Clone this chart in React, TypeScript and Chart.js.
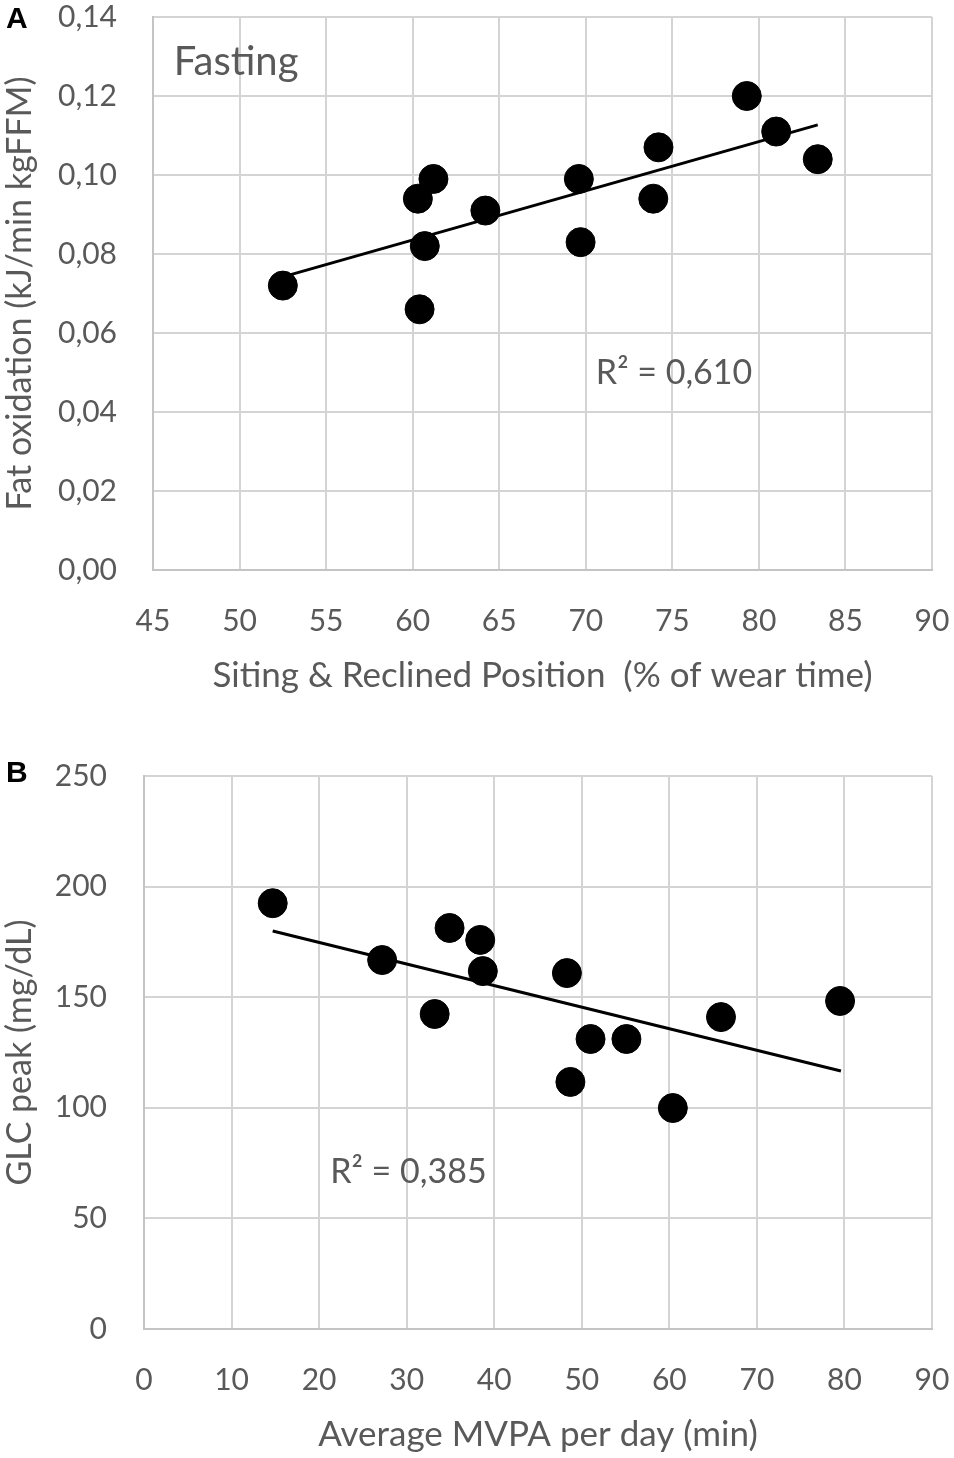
import React, { useEffect, useRef } from "react";
import { Chart, registerables } from "chart.js";

Chart.register(...registerables);

// ---- Panel A data ----
const sittingPct = [52.5, 60.3, 61.2, 60.7, 60.4, 64.2, 69.6, 69.7, 74.2, 73.9, 79.3, 81.0, 83.4];
const fatOxidation = [0.072, 0.094, 0.099, 0.082, 0.066, 0.091, 0.099, 0.083, 0.107, 0.094, 0.120, 0.111, 0.104];
const trendAX = [52.5, 83.4];
const trendAY = [0.0742, 0.1127];
const xTicksA = [45, 90, 5];
const yTicksA = [0, 0.14, 0.02];

// ---- Panel B data ----
const mvpaMin = [14.7, 27.2, 33.2, 34.9, 38.4, 38.7, 48.3, 48.7, 51.0, 55.1, 60.4, 65.9, 79.5];
const glcPeak = [192.5, 166.8, 142.4, 181.3, 175.9, 161.8, 160.9, 111.7, 131.1, 131.1, 99.9, 141.0, 148.3];
const trendBX = [14.7, 79.6];
const trendBY = [179.9, 116.6];
const xTicksB = [0, 90, 10];
const yTicksB = [0, 250, 50];

const FONT = "Lato, 'Open Sans', sans-serif";
const TEXT = "#595959";
const GRID = "#d4d4d4";

type Note = { text: string; x: number; y: number; size: number };

const notesA: Note[] = [
  { text: "Fasting", x: 49.8, y: 0.1286, size: 40 },
  { text: "R² = 0,610", x: 75.1, y: 0.0499, size: 34 },
];
const notesB: Note[] = [{ text: "R² = 0,385", x: 30.2, y: 71, size: 34 }];

type Cfg = {
  xs: number[];
  ys: number[];
  tx: number[];
  ty: number[];
  xr: number[];
  yr: number[];
  xTitle: string;
  yTitle: string;
  notes: Note[];
  fmtY: (v: number) => string;
  height: number;
  padTop: number;
  yWidth: number;
  xHeight: number;
  yTickPad: number;
  xTitlePadBottom: number;
};

function ScatterPanel(props: { cfg: Cfg }) {
  const ref = useRef<HTMLCanvasElement | null>(null);
  useEffect(() => {
    const c = props.cfg;
    if (!ref.current) return;
    const notePlugin = {
      id: "notes",
      afterDatasetsDraw(chart: any) {
        const ctx = chart.ctx;
        const xs = chart.scales.x;
        const ys = chart.scales.y;
        ctx.save();
        ctx.fillStyle = TEXT;
        ctx.textAlign = "center";
        ctx.textBaseline = "middle";
        c.notes.forEach((n) => {
          ctx.font = `${n.size}px ${FONT}`;
          ctx.fillText(n.text, xs.getPixelForValue(n.x), ys.getPixelForValue(n.y));
        });
        ctx.restore();
      },
    };
    const chart = new Chart(ref.current, {
      type: "scatter",
      data: {
        datasets: [
          {
            data: c.xs.map((x, i) => ({ x, y: c.ys[i] })),
            backgroundColor: "#000",
            borderColor: "#000",
            pointRadius: 14.5,
            pointHoverRadius: 14.5,
          },
          {
            type: "line",
            data: c.tx.map((x, i) => ({ x, y: c.ty[i] })),
            borderColor: "#000",
            borderWidth: 3,
            pointRadius: 0,
            showLine: true,
            fill: false,
          } as any,
        ],
      },
      options: {
        animation: false,
        responsive: false,
        events: [],
        layout: { padding: { top: c.padTop, right: 22, left: 0, bottom: 0 } },
        plugins: { legend: { display: false }, tooltip: { enabled: false } },
        scales: {
          x: {
            type: "linear",
            min: c.xr[0],
            max: c.xr[1],
            afterFit: (s: any) => {
              s.height = c.xHeight;
              s.paddingLeft = 0;
              s.paddingRight = 0;
            },
            ticks: {
              stepSize: c.xr[2],
              padding: 33,
              color: TEXT,
              font: { family: FONT, size: 30 },
              maxRotation: 0,
            },
            grid: { color: GRID, lineWidth: 2, drawTicks: false },
            border: { color: "#c4c4c4", width: 2 },
            title: {
              display: true,
              text: c.xTitle,
              color: TEXT,
              font: { family: FONT, size: 35 },
              padding: { top: 0, bottom: c.xTitlePadBottom },
            },
          },
          y: {
            type: "linear",
            min: c.yr[0],
            max: c.yr[1],
            afterFit: (s: any) => {
              s.width = c.yWidth;
              s.paddingTop = 0;
              s.paddingBottom = 0;
            },
            ticks: {
              stepSize: c.yr[2],
              padding: c.yTickPad,
              color: TEXT,
              font: { family: FONT, size: 30 },
              callback: (v: any) => c.fmtY(Number(v)),
            },
            grid: { color: GRID, lineWidth: 2, drawTicks: false },
            border: { color: "#c4c4c4", width: 2 },
            title: {
              display: true,
              text: c.yTitle,
              color: TEXT,
              font: { family: FONT, size: 34 },
              padding: { top: 0, bottom: 0 },
            },
          },
        },
      },
      plugins: [notePlugin],
    });
    return () => chart.destroy();
  }, [props.cfg]);
  return <canvas ref={ref} width={954} height={props.cfg.height} style={{ display: "block" }} />;
}

const cfgA: Cfg = {
  xs: sittingPct,
  ys: fatOxidation,
  tx: trendAX,
  ty: trendAY,
  xr: xTicksA,
  yr: yTicksA,
  xTitle: "Siting & Reclined Position  (% of wear time)",
  yTitle: "Fat oxidation (kJ/min kgFFM)",
  notes: notesA,
  fmtY: (v) => v.toFixed(2).replace(".", ","),
  height: 720,
  padTop: 17,
  yWidth: 153,
  xHeight: 150,
  yTickPad: 36,
  xTitlePadBottom: 23,
};

const cfgB: Cfg = {
  xs: mvpaMin,
  ys: glcPeak,
  tx: trendBX,
  ty: trendBY,
  xr: xTicksB,
  yr: yTicksB,
  xTitle: "Average MVPA per day (min)",
  yTitle: "GLC peak (mg/dL)",
  notes: notesB,
  fmtY: (v) => String(Math.round(v)),
  height: 718,
  padTop: 36,
  yWidth: 144,
  xHeight: 129,
  yTickPad: 37,
  xTitlePadBottom: 2,
};

export default function App() {
  const label: React.CSSProperties = {
    position: "absolute",
    left: 6,
    fontFamily: "'Liberation Sans', Arial, sans-serif",
    fontWeight: "bold",
    fontSize: 30,
    color: "#000",
    lineHeight: "30px",
  };
  return (
    <div style={{ position: "absolute", left: 0, top: 0, width: 954, height: 1458, background: "#fff" }}>
      <div style={{ position: "absolute", left: 0, top: 0 }}>
        <ScatterPanel cfg={cfgA} />
      </div>
      <div style={{ position: "absolute", left: 0, top: 740 }}>
        <ScatterPanel cfg={cfgB} />
      </div>
      <div style={{ ...label, top: 3 }}>A</div>
      <div style={{ ...label, top: 757 }}>B</div>
    </div>
  );
}
